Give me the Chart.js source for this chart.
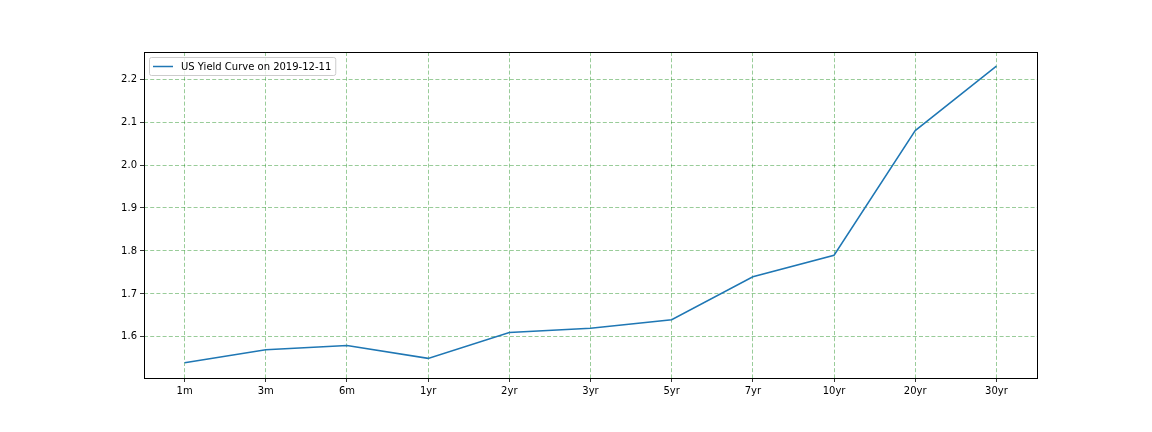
<!DOCTYPE html>
<html>
<head>
<meta charset="utf-8">
<script src="https://cdn.jsdelivr.net/npm/chart.js@4"></script>
<style>
html,body{margin:0;padding:0;background:#fff;}
#wrap{width:1152px;height:432px;position:relative;}
</style>
</head>
<body>
<div id="wrap"><canvas id="c" width="1152" height="432"></canvas></div>
<script>
const categories = ["1m","3m","6m","1yr","2yr","3yr","5yr","7yr","10yr","20yr","30yr"];
const yields = [1.54,1.57,1.58,1.55,1.61,1.62,1.64,1.74,1.79,2.08,2.23];
const yTicks = [1.6,1.7,1.8,1.9,2.0,2.1,2.2];
const seriesLabel = "US Yield Curve on 2019-12-11";

const FONT = "'DejaVu Sans', sans-serif";

const framePlugin = {
  id: 'frame',
  afterDraw(chart) {
    const {ctx, chartArea: a} = chart;
    ctx.save();
    ctx.strokeStyle = '#000';
    ctx.lineWidth = 1;
    ctx.strokeRect(Math.round(a.left)+0.5, Math.round(a.top)+0.5, Math.round(a.right-a.left), Math.round(a.bottom-a.top));
    // legend
    const x0 = a.left + 5, y0 = a.top + 5;
    ctx.font = '10px ' + FONT;
    const tw = ctx.measureText(seriesLabel).width;
    const w = 32 + tw + 4, h = 18;
    ctx.fillStyle = 'rgba(255,255,255,0.8)';
    ctx.strokeStyle = '#cccccc';
    ctx.lineWidth = 1;
    const r = 2;
    ctx.beginPath();
    ctx.moveTo(x0+0.5+r, y0+0.5);
    ctx.arcTo(x0+0.5+w, y0+0.5, x0+0.5+w, y0+0.5+h, r);
    ctx.arcTo(x0+0.5+w, y0+0.5+h, x0+0.5, y0+0.5+h, r);
    ctx.arcTo(x0+0.5, y0+0.5+h, x0+0.5, y0+0.5, r);
    ctx.arcTo(x0+0.5, y0+0.5, x0+0.5+w, y0+0.5, r);
    ctx.closePath();
    ctx.fill(); ctx.stroke();
    ctx.strokeStyle = '#1f77b4';
    ctx.lineWidth = 1.5;
    ctx.beginPath();
    ctx.moveTo(x0+4, y0+9.5);
    ctx.lineTo(x0+24, y0+9.5);
    ctx.stroke();
    ctx.fillStyle = '#000';
    ctx.textBaseline = 'middle';
    ctx.textAlign = 'left';
    ctx.fillText(seriesLabel, x0+32, y0+10);
    ctx.restore();
  }
};

new Chart(document.getElementById('c'), {
  type: 'line',
  data: {
    labels: categories,
    datasets: [{
      label: seriesLabel,
      data: yields,
      borderColor: '#1f77b4',
      backgroundColor: '#1f77b4',
      borderWidth: 1.5,
      pointRadius: 0,
      tension: 0,
      fill: false
    }]
  },
  options: {
    responsive: false,
    animation: false,
    devicePixelRatio: 1,
    layout: { padding: { left: 0, right: 115, top: 52, bottom: 0 } },
    plugins: { legend: { display: false }, tooltip: { enabled: false } },
    scales: {
      x: {
        type: 'category',
        offset: true,
        afterFit(s) { s.height = 54; },
        grid: {
          display: true,
          offset: false,
          color: 'rgba(0,128,0,0.5)',
          lineWidth: 0.8,
          tickColor: '#000',
          tickLength: 4,
          drawTicks: true
        },
        border: { display: false, dash: [4,2.2] },
        ticks: { color: '#000', font: { family: FONT, size: 10 }, padding: 3, maxRotation: 0, autoSkip: false }
      },
      y: {
        type: 'linear',
        min: 1.5043,
        max: 2.2630,
        afterFit(s) { s.width = 144; },
        afterBuildTicks(s) { s.ticks = yTicks.map(v => ({ value: v })); },
        grid: {
          display: true,
          color: 'rgba(0,128,0,0.5)',
          lineWidth: 0.8,
          tickColor: '#000',
          tickLength: 4,
          drawTicks: true
        },
        border: { display: false, dash: [4,2.2] },
        ticks: {
          color: '#000',
          font: { family: FONT, size: 10 },
          padding: 3,
          callback: v => Number(v).toFixed(1)
        }
      }
    }
  },
  plugins: [framePlugin]
});
</script>
</body>
</html>
